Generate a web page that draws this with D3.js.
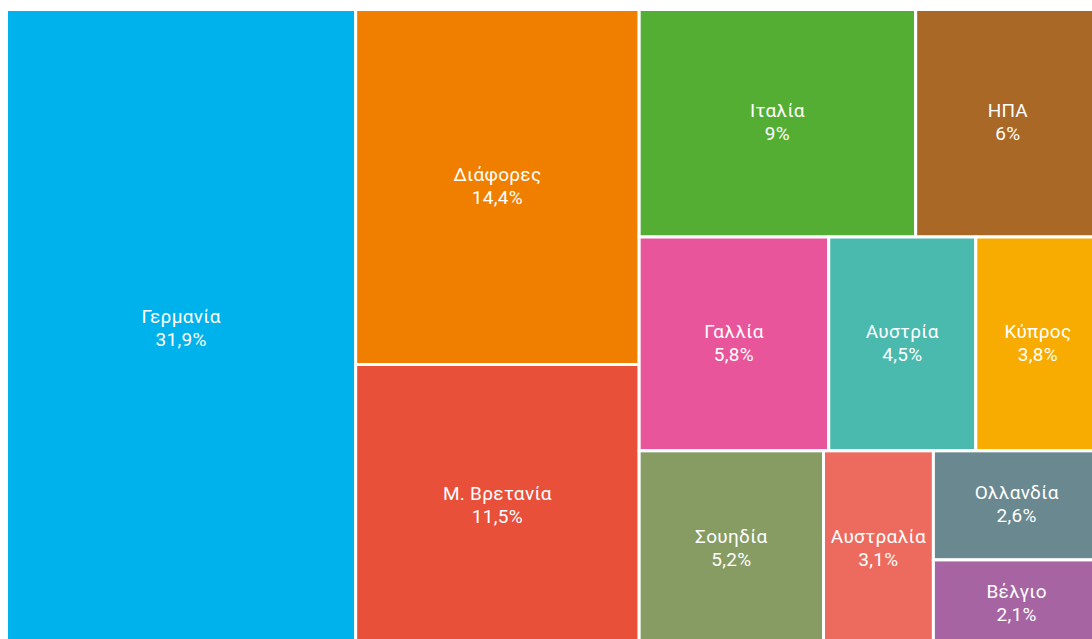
<!DOCTYPE html>
<html>
<head>
<meta charset="utf-8">
<script src="https://cdn.jsdelivr.net/npm/d3@7.9.0/dist/d3.min.js"></script>
<style>
  body { margin: 0; background: #fff; overflow: hidden; }
  svg { display: block; }
  text { font-family: Roboto, "Noto Sans", sans-serif; fill: #fff; font-size: 19px; letter-spacing: 0.3px; }
</style>
</head>
<body>
<svg width="1092" height="639"></svg>
<script>
// countries and shares (%)
const countries = ['Γερμανία', 'Διάφορες', 'Μ. Βρετανία', 'Ιταλία', 'ΗΠΑ', 'Γαλλία',
  'Σουηδία', 'Αυστρία', 'Κύπρος', 'Αυστραλία', 'Ολλανδία', 'Βέλγιο'];
const shares = [31.9, 14.4, 11.5, 9, 6, 5.8, 5.2, 4.5, 3.8, 3.1, 2.6, 2.1];
const colors = ['#00b2eb', '#f07f00', '#e8503a', '#54ae34', '#aa6826', '#e8559a',
  '#869c63', '#4ab9ae', '#f8ab00', '#ed6b5e', '#6a8890', '#a664a3'];

// how the squarified layout groups the cells (dice = side by side, slice = stacked)
const layout = { dir: 'dice', children: [
  'Γερμανία',
  { dir: 'slice', children: ['Διάφορες', 'Μ. Βρετανία'] },
  { dir: 'slice', children: [
    { dir: 'dice', children: ['Ιταλία', 'ΗΠΑ'] },
    { dir: 'dice', children: ['Γαλλία', 'Αυστρία', 'Κύπρος'] },
    { dir: 'dice', children: ['Σουηδία', 'Αυστραλία',
      { dir: 'slice', children: ['Ολλανδία', 'Βέλγιο'] }] }
  ] }
] };

function build(node) {
  if (typeof node === 'string') {
    let i = countries.indexOf(node);
    return { name: node, value: shares[i], color: colors[i] };
  }
  return { dir: node.dir, children: node.children.map(build) };
}

const svg = d3.select('svg');

let root = d3.hierarchy(build(layout)).sum(d => d.value || 0);

function tile(node, x0, y0, x1, y1) {
  if (node.data.dir === 'slice') d3.treemapSlice(node, x0, y0, x1, y1);
  else d3.treemapDice(node, x0, y0, x1, y1);
}

d3.treemap()
  .tile(tile)
  .size([1093.5, 638.5])
  .round(false)(root);

let g = svg.append('g').attr('transform', 'translate(6.5,9.5)');

let cells = g.selectAll('g.cell')
  .data(root.leaves())
  .join('g')
  .attr('class', 'cell');

cells.append('rect')
  .attr('x', d => d.x0)
  .attr('y', d => d.y0)
  .attr('width', d => d.x1 - d.x0)
  .attr('height', d => d.y1 - d.y0)
  .attr('fill', d => d.data.color)
  .attr('stroke', '#fff')
  .attr('stroke-width', 3);

let fmt = v => String(v).replace('.', ',') + '%';

// one text per cell, two lines
let labels = cells.append('text')
  .attr('text-anchor', 'middle')
  .attr('y', d => (d.y0 + d.y1) / 2 - 6);

labels.append('tspan')
  .attr('x', d => (d.x0 + d.x1) / 2)
  .text(d => d.data.name);

labels.append('tspan')
  .attr('x', d => (d.x0 + d.x1) / 2)
  .attr('dy', 23)
  .text(d => fmt(d.data.value));
</script>
</body>
</html>
